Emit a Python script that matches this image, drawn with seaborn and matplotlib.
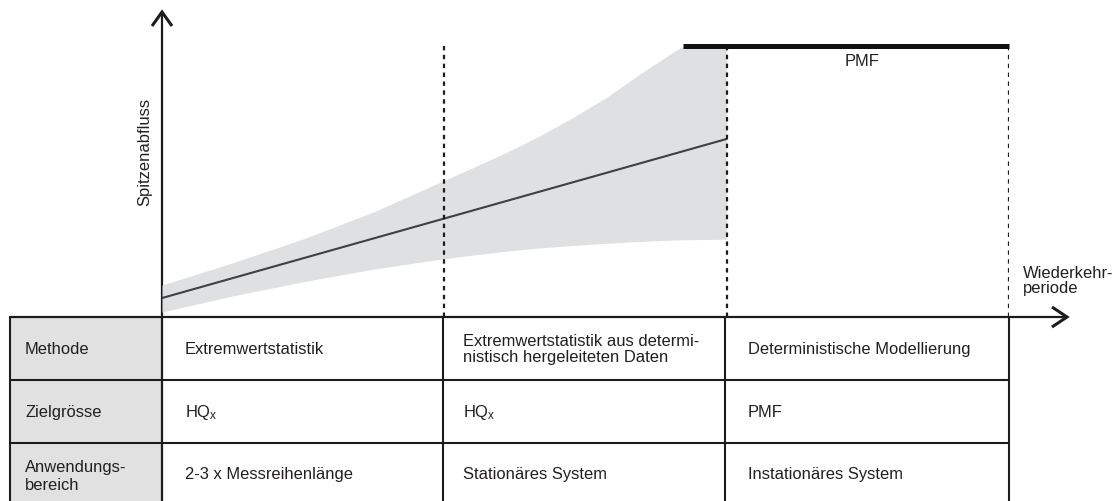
import numpy as np
import pandas as pd
import matplotlib
matplotlib.use("Agg")
import matplotlib.pyplot as plt
import seaborn as sns

sns.set_theme(style="white")
plt.rcParams["font.family"] = ["Liberation Sans", "DejaVu Sans"]
plt.rcParams["mathtext.default"] = "regular"

# Return-period axis in zone units (0-1 statistics, 1-2 derived data, 2-3 PMF)
band_x = [0.0, 0.25, 0.5, 0.75, 0.985, 1.103, 1.221, 1.339, 1.457, 1.575,
          1.693, 1.81, 1.846, 2.0]
band_upper = [1.18, 2.0, 2.88, 3.88, 4.97, 5.52, 6.08, 6.69, 7.37, 8.11,
              8.97, 9.77, 10.0, 10.0]
band_lower = [0.18, 0.78, 1.3, 1.77, 2.13, 2.29, 2.43, 2.55, 2.64, 2.72,
              2.79, 2.84, 2.85, 2.87]
trend_x = [0.0, 2.0]
trend_y = [0.70, 6.57]
zone_bounds = [1.0, 2.0, 3.0]
pmf_x = [1.846, 3.0]
pmf_level = 10.0

# Table rows: header, then one entry per zone
row_headers = ["Methode", "Zielgrösse", "Anwendungs-\nbereich"]
methods = ["Extremwertstatistik",
           "Extremwertstatistik aus determi-\nnistisch hergeleiteten Daten",
           "Deterministische Modellierung"]
targets = ["HQ$_x$", "HQ$_x$", "PMF"]
ranges = ["2-3 x Messreihenlänge", "Stationäres System", "Instationäres System"]

W, H = 1116, 502
fig = plt.figure(figsize=(W / 100, H / 100), dpi=100)

ink = "#1c1c1c"
txt = "#231f20"
fs = 11.9

# ---- frame layer (pixel layout): table, axis lines, arrow heads ----
fr = fig.add_axes([0, 0, 1, 1])
fr.set_xlim(0, W)
fr.set_ylim(H, 0)
fr.axis("off")

x_axis_y = 318
col_x = [10, 162, 443, 725, 1009]
row_y = [318, 381, 444, 506]

fr.fill_between([col_x[0], col_x[1]], row_y[0], H, color="#e1e1e1", lw=0, zorder=0)
for yy in row_y[1:3]:
    fr.plot([col_x[0], col_x[-1]], [yy, yy], color=ink, lw=1.5, zorder=2)
for xx in [col_x[0], col_x[2], col_x[3], col_x[4]]:
    fr.plot([xx, xx], [row_y[0], H], color=ink, lw=1.5, zorder=2)
# axes lines
fr.plot([col_x[1], col_x[1]], [13, H], color=ink, lw=1.6, zorder=3)
fr.plot([col_x[0], 1066], [x_axis_y, x_axis_y], color=ink, lw=1.6, zorder=3)
# open arrow heads
fr.plot([152, 162, 172], [27, 13, 27], color=ink, lw=2.2,
        solid_joinstyle="miter", solid_capstyle="butt", zorder=3)
fr.plot([1052, 1067, 1052], [308, 318, 328], color=ink, lw=2.2,
        solid_joinstyle="miter", solid_capstyle="butt", zorder=3)

# table text
text_x = [25, 185, 463, 748]
row_c = [(row_y[i] + row_y[i + 1]) / 2 for i in range(3)]
table_rows = [methods, targets, ranges]
for ri, cells in enumerate(table_rows):
    fr.text(text_x[0], row_c[ri] + (2 if ri == 2 else 0), row_headers[ri],
            ha="left", va="center", fontsize=fs, color=txt, linespacing=1.25)
    for ci, val in enumerate(cells):
        fr.text(text_x[ci + 1], row_c[ri], val, ha="left", va="center",
                fontsize=fs, color=txt, linespacing=1.05)

fr.text(145, 152, "Spitzenabfluss", rotation=90, ha="center", va="center",
        fontsize=fs, color=txt)
fr.text(1023, 281, "Wiederkehr-\nperiode", ha="left", va="center",
        fontsize=fs, color=txt, linespacing=1.0)

# ---- data layer: return period vs. peak discharge ----
ax = fig.add_axes([162 / W, (H - 318) / H, (1009 - 162) / W, (318 - 47) / H])
ax.set_xlim(0, 3)
ax.set_ylim(0, 10)
ax.axis("off")
ax.patch.set_alpha(0)

ax.fill_between(band_x, band_lower, band_upper, color="#dfe0e2", lw=0, zorder=1)
trend = pd.DataFrame({"T": trend_x, "Q": trend_y})
sns.lineplot(data=trend, x="T", y="Q", ax=ax, color="#404040", lw=1.5, zorder=2)
ax.vlines(zone_bounds, 0, pmf_level, colors=ink, lw=1.6,
          linestyles=(0, (2.0, 2.0)), zorder=3)
ax.plot(pmf_x, [pmf_level, pmf_level], color="#111111", lw=3.6,
        solid_capstyle="butt", clip_on=False, zorder=4)
ax.text(np.mean([zone_bounds[1], zone_bounds[2]]) - 0.02, pmf_level - 0.55, "PMF",
        ha="center", va="center", fontsize=fs, color=txt)

fig.savefig("out.png", dpi=100)
